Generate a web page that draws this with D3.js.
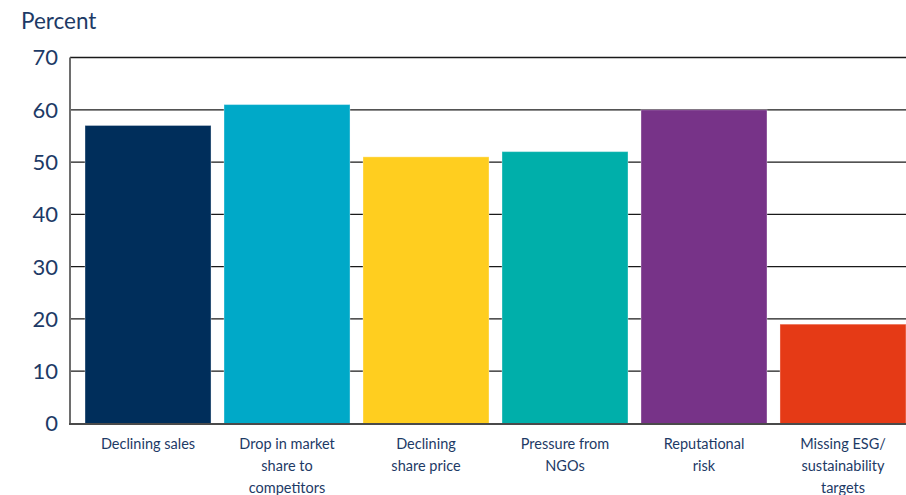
<!DOCTYPE html>
<html>
<head>
<meta charset="utf-8">
<script src="https://cdn.jsdelivr.net/npm/d3@7"></script>
<style>
  html, body { margin: 0; padding: 0; background: #fff; }
  svg { display: block; font-family: Lato, "Noto Sans", sans-serif; }
</style>
</head>
<body>
<svg id="chart" width="906" height="495"></svg>
<script>
// Share of respondents naming each consequence
const categories = [
  ["Declining sales"],
  ["Drop in market", "share to", "competitors"],
  ["Declining", "share price"],
  ["Pressure from", "NGOs"],
  ["Reputational", "risk"],
  ["Missing ESG/", "sustainability", "targets"]
];
const values = [57, 61, 51, 52, 60, 19];
const colors = ["#002E5B", "#00A9C8", "#FFCE1F", "#00AFAA", "#773388", "#E53A16"];
const yTicks = [0, 10, 20, 30, 40, 50, 60, 70];
const yLabel = "Percent";

const svg = d3.select("#chart");
const textColor = "#1D3A66";

const x = d3.scaleBand()
  .domain(d3.range(categories.length))
  .range([70, 921])
  .paddingInner(0.0935)
  .paddingOuter(0.108);

const y = d3.scaleLinear().domain([0, 70]).range([423.5, 57.5]);

// horizontal gridlines behind the bars
svg.append("g")
  .selectAll("line")
  .data(yTicks.filter(d => d > 0))
  .join("line")
  .attr("x1", 70).attr("x2", 906)
  .attr("y1", d => y(d)).attr("y2", d => y(d))
  .attr("stroke", "#1a1a1a")
  .attr("stroke-width", 1.3);

// bars
svg.append("g")
  .selectAll("rect")
  .data(values)
  .join("rect")
  .attr("x", (d, i) => x(i))
  .attr("width", x.bandwidth())
  .attr("y", d => y(d))
  .attr("height", d => y(0) - y(d))
  .attr("fill", (d, i) => colors[i])
  .attr("stroke", "rgba(255,255,255,0.35)")
  .attr("stroke-width", 1);

// left axis line
svg.append("line")
  .attr("x1", 70).attr("x2", 70)
  .attr("y1", y(70)).attr("y2", y(0) + 1)
  .attr("stroke", "#6e6e6e").attr("stroke-width", 2);

// baseline
svg.append("line")
  .attr("x1", 69).attr("x2", 906)
  .attr("y1", y(0) + 0.5).attr("y2", y(0) + 0.5)
  .attr("stroke", "#4a4a4a").attr("stroke-width", 2);

// y tick labels
const yAxis = d3.axisLeft(y).tickValues(yTicks).tickSize(0).tickPadding(0);
const gy = svg.append("g").attr("transform", "translate(58,0)").call(yAxis);
gy.select(".domain").remove();
gy.selectAll("text")
  .attr("fill", textColor)
  .attr("font-size", 22)
  .attr("font-family", "Lato, 'Noto Sans', sans-serif")
  .attr("dy", "0.34em");

// axis title
svg.append("text")
  .attr("x", 21).attr("y", 29)
  .attr("fill", textColor)
  .attr("font-size", 22.5)
  .text(yLabel);

// category labels
const lab = svg.append("g")
  .selectAll("text")
  .data(categories)
  .join("text")
  .attr("x", (d, i) => x(i) + x.bandwidth() / 2)
  .attr("y", 449)
  .attr("text-anchor", "middle")
  .attr("fill", textColor)
  .attr("font-size", 14.5);
lab.selectAll("tspan")
  .data(d => d)
  .join("tspan")
  .attr("x", function () { return d3.select(this.parentNode).attr("x"); })
  .attr("dy", (d, j) => j === 0 ? 0 : 22)
  .text(d => d);
</script>
</body>
</html>
